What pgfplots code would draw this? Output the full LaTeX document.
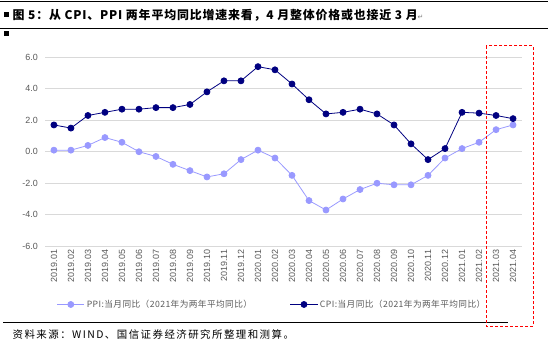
\documentclass[border=0pt]{standalone}
\usepackage{fontspec}
\setmainfont{Liberation Sans}
\newfontfamily\cjk{Noto Sans CJK SC}
\newfontfamily\cjksp[LetterSpace=7]{Noto Sans CJK SC}
\newfontfamily\cjkleg[LetterSpace=5]{Noto Sans CJK SC}
\newfontfamily\cjksrc[LetterSpace=14]{Noto Sans CJK SC}
\newfontfamily\sym{DejaVu Sans}
\usepackage{pgfplots}
\pgfplotsset{compat=1.18}
\definecolor{cpi}{RGB}{0,0,128}
\definecolor{ppi}{RGB}{153,153,255}
\definecolor{ticktext}{RGB}{89,89,89}
\definecolor{gridc}{RGB}{217,217,217}
\begin{document}
\begin{tikzpicture}
\path (0,0) rectangle (548bp,344bp);
% header
\draw[line width=1bp] (0,342.6bp) -- (548bp,342.6bp);
\fill (4bp,327bp) rectangle (9bp,332bp);
\node[anchor=west, font=\cjksp\bfseries\fontsize{12}{14}\selectfont, inner sep=0] at (12bp,328.7bp) {图 5：从 CPI、PPI 两年平均同比增速来看，4 月整体价格或也接近 3 月{\sym\mdseries\fontsize{7}{8}\selectfont\color{gray}↵}};
\draw[line width=1bp] (0,315.7bp) -- (548bp,315.7bp);
\fill (4bp,308bp) rectangle (9bp,313bp);
% footer
\draw[line width=1.2bp] (3bp,21bp) -- (508bp,21bp);
\node[anchor=west, font=\cjksrc\fontsize{10.5}{12}\selectfont, inner sep=0] at (12bp,9bp) {资料来源：WIND、国信证券经济研究所整理和测算。};
\begin{axis}[
  at={(45bp,97.3bp)}, anchor=south west,
  scale only axis, width=477bp, height=189.4bp,
  xmin=-0.5, xmax=27.5, ymin=-6, ymax=6,
  axis line style={draw=none},
  major tick length=0pt,
  ymajorgrids, grid style={color=gridc, line width=0.9bp},
  ytick={-6,-4,...,6},
  /pgf/number format/fixed, /pgf/number format/fixed zerofill, /pgf/number format/precision=1, /pgf/number format/assume math mode=true,
  xtick={0,...,27},
  xticklabels={2019.01,2019.02,2019.03,2019.04,2019.05,2019.06,2019.07,2019.08,2019.09,2019.10,2019.11,2019.12,2020.01,2020.02,2020.03,2020.04,2020.05,2020.06,2020.07,2020.08,2020.09,2020.10,2020.11,2020.12,2021.01,2021.02,2021.03,2021.04},
  xticklabel style={rotate=90, anchor=east, xshift=0bp},
  tick label style={font=\fontsize{9}{10}\selectfont, text=ticktext},
  yticklabel style={xshift=-4bp},
  legend columns=2,
  legend style={at={(0.476,-0.308)}, anchor=center, draw=none, fill=none,
    font=\cjkleg\fontsize{8.7}{10}\selectfont, text=ticktext,
    /tikz/every even column/.append style={column sep=36bp}},
  legend image code/.code={\draw[mark repeat=2,mark phase=2] plot coordinates {(0cm,0cm) (0.48cm,0cm) (0.96cm,0cm)};},
  clip=false,
]
\addplot[color=ppi, line width=0.8bp, mark=*, mark size=3bp, mark options={fill=ppi, draw=ppi}] coordinates {
(0,0.1) (1,0.1) (2,0.4) (3,0.9) (4,0.6) (5,0.0) (6,-0.3) (7,-0.8) (8,-1.2) (9,-1.6) (10,-1.4) (11,-0.5) (12,0.1) (13,-0.4)
(14,-1.5) (15,-3.1) (16,-3.7) (17,-3.0) (18,-2.4) (19,-2.0) (20,-2.1) (21,-2.1) (22,-1.5) (23,-0.4) (24,0.2) (25,0.6) (26,1.4) (27,1.7)};
\addlegendentry{PPI:当月同比（2021年为两年平均同比）}
\addplot[color=cpi, line width=0.8bp, mark=*, mark size=3bp, mark options={fill=cpi, draw=cpi}] coordinates {
(0,1.7) (1,1.5) (2,2.3) (3,2.5) (4,2.7) (5,2.7) (6,2.8) (7,2.8) (8,3.0) (9,3.8) (10,4.5) (11,4.5) (12,5.4) (13,5.2)
(14,4.3) (15,3.3) (16,2.4) (17,2.5) (18,2.7) (19,2.4) (20,1.7) (21,0.5) (22,-0.5) (23,0.2) (24,2.5) (25,2.45) (26,2.3) (27,2.1)};
\addlegendentry{CPI:当月同比（2021年为两年平均同比）}
\end{axis}
\draw[red, dashed, line width=1bp, dash pattern=on 3bp off 2bp] (486.7bp,298bp) rectangle (533.7bp,17bp);
\end{tikzpicture}
\end{document}
